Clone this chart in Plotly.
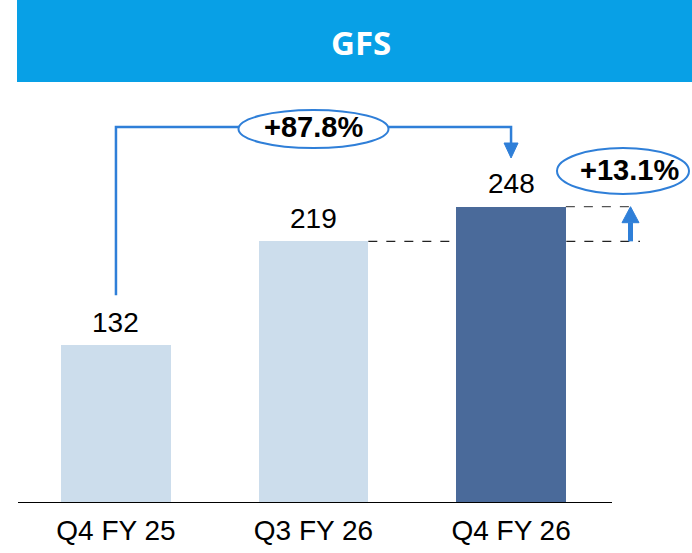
import plotly.graph_objects as go

# ---- data ----
categories = ["Q4 FY 25", "Q3 FY 26", "Q4 FY 26"]
values = [132, 219, 248]
bar_colors = ["#CCDDEC", "#CCDDEC", "#4A6A9A"]
title_text = "GFS"
growth_yoy = "+87.8%"
growth_qoq = "+13.1%"

# ---- layout constants ----
W, H = 692, 553
PLOT_BOTTOM = 503          # pixel row of the baseline
Y_MAX = 421.0              # data value at the top pixel row
X_MIN, X_MAX = -0.587, 2.916
BLUE = "#2F7FD8"
TEXT_FONT = "Liberation Sans, Arial"

def px_x(p):   # pixel column -> x data
    return X_MIN + (X_MAX - X_MIN) * p / W

def px_dy(p):  # pixel height -> y data span
    return p * Y_MAX / PLOT_BOTTOM

x = list(range(len(categories)))

fig = go.Figure()
fig.add_trace(go.Bar(
    x=x, y=values, width=0.555, marker=dict(color=bar_colors, line=dict(width=0)),
    hoverinfo="skip", showlegend=False,
))

shapes = []
annotations = []

# title bar
shapes.append(dict(type="rect", xref="paper", yref="paper",
                   x0=17 / W, x1=1.0, y0=(PLOT_BOTTOM - 82) / PLOT_BOTTOM,
                   y1=1.0,
                   fillcolor="#08A0E6", line=dict(width=0), layer="below"))
annotations.append(dict(xref="paper", yref="paper", x=361 / W,
                        y=(PLOT_BOTTOM - 43) / PLOT_BOTTOM, text=f"<b>{title_text}</b>",
                        showarrow=False, xanchor="center", yanchor="middle",
                        font=dict(family="Open Sans", size=33, color="white")))

# baseline axis line
shapes.append(dict(type="line", x0=px_x(18), x1=px_x(612), y0=0, y1=0,
                   line=dict(color="black", width=2), layer="above"))

# value labels
for xi, v in zip(x, values):
    annotations.append(dict(x=xi, y=v, text=str(v), showarrow=False,
                            xanchor="center", yanchor="middle", yshift=23,
                            font=dict(family=TEXT_FONT, size=28, color="black")))

# ---- YoY bracket (Q4 FY25 -> Q4 FY26) ----
y_br = Y_MAX - px_dy(127)
y_left_bottom = values[0] + px_dy(50)
y_tip = Y_MAX - px_dy(158)
head_h = px_dy(15)
head_w = px_x(7) - px_x(0)
shapes.append(dict(type="path",
                   path=f"M {x[0]},{y_left_bottom} L {x[0]},{y_br} L {x[2]},{y_br} L {x[2]},{y_tip + head_h}",
                   line=dict(color=BLUE, width=2.5)))
shapes.append(dict(type="path",
                   path=f"M {x[2] - head_w},{y_tip + head_h} L {x[2] + head_w},{y_tip + head_h} L {x[2]},{y_tip} Z",
                   fillcolor=BLUE, line=dict(color=BLUE, width=1)))
ell_hw = px_x(75) - px_x(0)
ell_hh = px_dy(19)
shapes.append(dict(type="circle", x0=x[1] - ell_hw, x1=x[1] + ell_hw,
                   y0=y_br - px_dy(2) - ell_hh, y1=y_br - px_dy(2) + ell_hh,
                   fillcolor="white", line=dict(color=BLUE, width=2)))
annotations.append(dict(x=x[1], y=y_br, text=f"<b>{growth_yoy}</b>", showarrow=False,
                        xanchor="center", yanchor="middle", yshift=0,
                        font=dict(family=TEXT_FONT, size=29, color="black")))

# ---- QoQ dashed guides and arrow ----
bar_half = 0.555 / 2
shapes.append(dict(type="line", x0=x[1] + bar_half, x1=px_x(640), y0=values[1], y1=values[1],
                   line=dict(color="#222222", width=1.3, dash="dash"), layer="below"))
shapes.append(dict(type="line", x0=x[2] + bar_half, x1=px_x(637), y0=values[2], y1=values[2],
                   line=dict(color="#555555", width=1.3, dash="dash"), layer="below"))
arr_x = px_x(630.5)
qh = px_dy(16)
qw = px_x(8.5) - px_x(0)
shapes.append(dict(type="line", x0=arr_x, x1=arr_x, y0=values[1], y1=values[2] - qh,
                   line=dict(color=BLUE, width=5)))
shapes.append(dict(type="path",
                   path=f"M {arr_x - qw},{values[2] - qh} L {arr_x + qw},{values[2] - qh} L {arr_x},{values[2]} Z",
                   fillcolor=BLUE, line=dict(color=BLUE, width=1)))
q_cx = px_x(623)
q_cy = Y_MAX - px_dy(171)
q_hw = px_x(66) - px_x(0)
q_hh = px_dy(23)
shapes.append(dict(type="circle", x0=q_cx - q_hw, x1=q_cx + q_hw,
                   y0=q_cy - q_hh, y1=q_cy + q_hh,
                   fillcolor="white", line=dict(color=BLUE, width=2)))
annotations.append(dict(x=px_x(629), y=q_cy, text=f"<b>{growth_qoq}</b>", showarrow=False,
                        xanchor="center", yanchor="middle", yshift=1,
                        font=dict(family=TEXT_FONT, size=29, color="black")))

fig.update_layout(
    width=W, height=H,
    margin=dict(l=0, r=0, t=0, b=H - PLOT_BOTTOM, pad=0),
    paper_bgcolor="white", plot_bgcolor="white",
    shapes=shapes, annotations=annotations,
    xaxis=dict(range=[X_MIN, X_MAX], tickvals=x, ticktext=categories,
               showgrid=False, zeroline=False, showline=False, ticks="",
               ticklabelstandoff=8,
               tickfont=dict(family=TEXT_FONT, size=28, color="black"),
               fixedrange=True),
    yaxis=dict(range=[0, Y_MAX], showgrid=False, zeroline=False, showline=False,
               showticklabels=False, ticks="", fixedrange=True),
    bargap=0,
)

fig.write_html("out.html", config={"displayModeBar": False},
               post_script="document.body.style.margin='0px';")
